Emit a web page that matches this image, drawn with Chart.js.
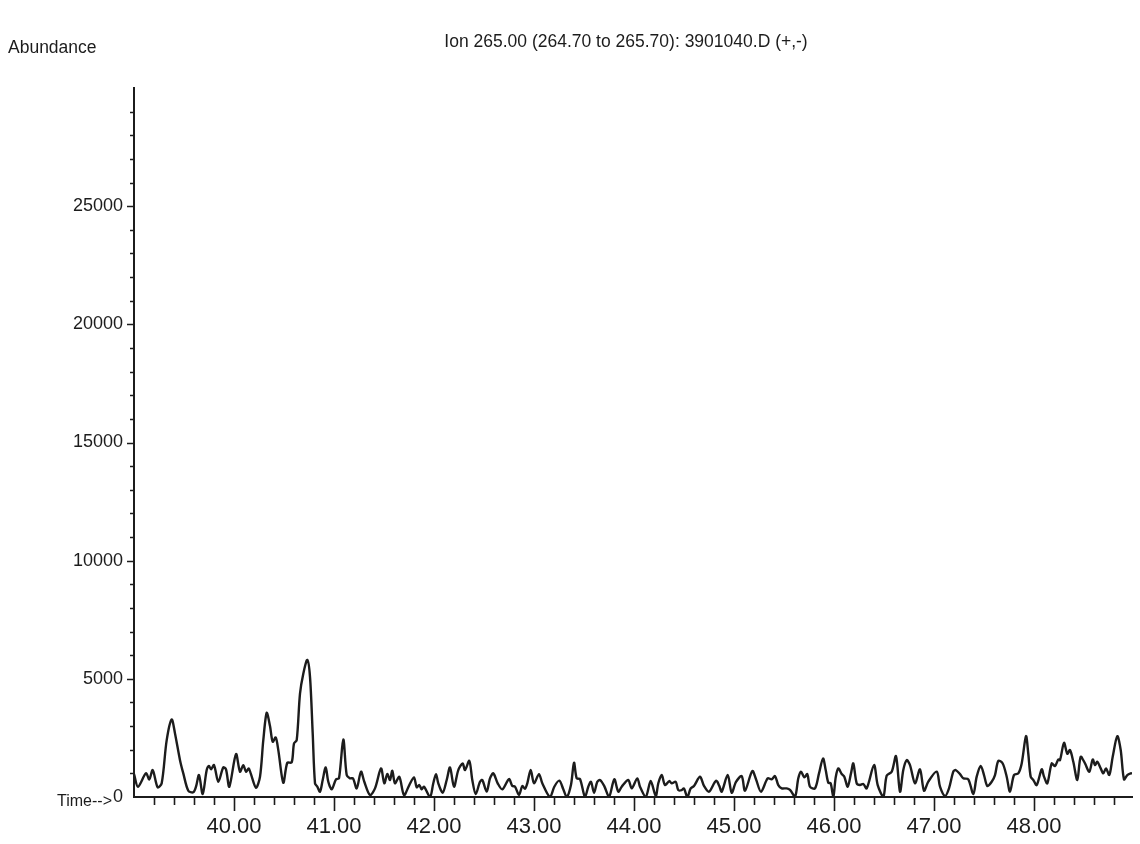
<!DOCTYPE html>
<html>
<head>
<meta charset="utf-8">
<title>Ion 265.00 chromatogram</title>
<script src="https://cdn.jsdelivr.net/npm/chart.js@4.4.1/dist/chart.umd.min.js"></script>
<style>
  html, body { margin: 0; padding: 0; background: #fff; }
  #wrap { width: 1140px; height: 844px; position: relative; }
</style>
</head>
<body>
<div id="wrap"><canvas id="tic" width="1140" height="844"></canvas></div>
<script>
// retention time (min) and abundance for ion 265.00
const retentionTime = [
  39.000, 39.040, 39.120, 39.153, 39.187, 39.237, 39.277, 39.327, 39.377, 39.410,
  39.460, 39.493, 39.543, 39.593, 39.620, 39.650, 39.687, 39.727, 39.750, 39.770,
  39.800, 39.843, 39.893, 39.920, 39.953, 40.020, 40.060, 40.093, 40.120, 40.147,
  40.167, 40.220, 40.260, 40.293, 40.327, 40.360, 40.387, 40.417, 40.443, 40.493,
  40.533, 40.577, 40.600, 40.627, 40.660, 40.693, 40.733, 40.760, 40.787, 40.810,
  40.833, 40.860, 40.887, 40.917, 40.943, 40.977, 41.020, 41.050, 41.093, 41.127,
  41.160, 41.190, 41.227, 41.270, 41.303, 41.360, 41.410, 41.470, 41.503, 41.533,
  41.560, 41.583, 41.610, 41.653, 41.700, 41.753, 41.800, 41.827, 41.853, 41.877,
  41.900, 41.960, 41.993, 42.020, 42.043, 42.087, 42.127, 42.160, 42.200, 42.243,
  42.287, 42.310, 42.353, 42.383, 42.417, 42.460, 42.483, 42.527, 42.560, 42.593,
  42.637, 42.683, 42.750, 42.783, 42.810, 42.850, 42.883, 42.910, 42.933, 42.967,
  43.000, 43.050, 43.083, 43.160, 43.203, 43.253, 43.293, 43.327, 43.370, 43.400,
  43.427, 43.460, 43.510, 43.543, 43.570, 43.600, 43.633, 43.660, 43.703, 43.750,
  43.803, 43.843, 43.877, 43.943, 43.977, 44.033, 44.060, 44.117, 44.167, 44.217,
  44.243, 44.277, 44.310, 44.353, 44.377, 44.417, 44.443, 44.477, 44.500, 44.533,
  44.567, 44.600, 44.660, 44.700, 44.750, 44.820, 44.853, 44.877, 44.937, 44.977,
  45.020, 45.077, 45.110, 45.183, 45.220, 45.270, 45.337, 45.377, 45.410, 45.443,
  45.477, 45.527, 45.560, 45.610, 45.643, 45.670, 45.703, 45.733, 45.760, 45.810,
  45.850, 45.890, 45.917, 45.943, 45.967, 45.993, 46.017, 46.043, 46.077, 46.103,
  46.137, 46.170, 46.193, 46.227, 46.260, 46.293, 46.327, 46.400, 46.437, 46.493,
  46.527, 46.577, 46.620, 46.660, 46.693, 46.727, 46.760, 46.810, 46.860, 46.900,
  46.943, 47.027, 47.060, 47.110, 47.150, 47.193, 47.217, 47.260, 47.293, 47.343,
  47.393, 47.427, 47.467, 47.500, 47.533, 47.577, 47.610, 47.643, 47.687, 47.727,
  47.760, 47.800, 47.843, 47.877, 47.920, 47.943, 47.967, 47.993, 48.027, 48.077,
  48.100, 48.133, 48.177, 48.210, 48.243, 48.260, 48.300, 48.333, 48.360, 48.393,
  48.433, 48.467, 48.510, 48.553, 48.587, 48.610, 48.633, 48.667, 48.693, 48.720,
  48.753, 48.787, 48.833, 48.867, 48.900, 48.933, 48.967, 48.980
];

const abundance = [
   970,  435, 1000,  745, 1140,  410,  580, 2405, 3280, 2690,
  1560, 1000,  265,  200,  435,  930,  125, 1140, 1310, 1170,
  1350,  645, 1250, 1170,  435, 1815, 1070, 1350, 1070, 1210,
  1000,  390,  855, 2405, 3560, 3000, 2335, 2520, 1985,  605,
  1450, 1465, 2265, 2405, 4375, 5220, 5800, 5080, 2690,  580,
   435,  225,  720, 1250,  645,  325,  745,  790, 2435,  930,
   790,  790,  365, 1070,  645,   85,  365, 1210,  580,  970,
   720, 1110,  580,  855,   85,  505,  830,  410,  505,  325,
   435,    0,  580,  970,  580,  180,  720, 1250,  435, 1140,
  1420, 1140, 1530,  720,  125,  645,  720,  225,  790, 1000,
   580,  325,  760,  465,  440,   85,  465,  350,  580, 1140,
   580,  970,  580,    0,  435,  690,  330,    0,  520, 1450,
   790,  760,    0,  435,  645,  180,  645,  720,  460,    0,
   745,  225,  435,  720,  365,  790,  435,    0,  675,   40,
   580,  930,  505,  675,  580,  645,  290,  295,  360,    0,
   360,  465,  855,  470,  225,  690,  470,  225,  930,  180,
   640,  885,  265, 1100,  750,  225,  790,  750,  885,  500,
   365,  365,  300,    0,  790, 1070,  830,  970,  435,  365,
  1000, 1630, 1140,  605,  580,    0,  830, 1210,  970,  860,
   435, 1000, 1420,  580,  510,  550,  365, 1350,  500,    0,
   900, 1070, 1730,  225, 1140, 1560, 1350,  580, 1170,  265,
   650, 1070,  435,   40,  365, 1070, 1140,  970,  790,  750,
   125,  860, 1310,  930,  465,  645,  930, 1530, 1420,  860,
   225,  930, 1000, 1420, 2575, 1830,  855,  720,  505, 1170,
   860,  580, 1420, 1310, 1590, 1560, 2290, 1830, 1985, 1490,
   720, 1700, 1420, 1070, 1590, 1350, 1490, 1210, 1000, 1210,
   930, 1700, 2575, 1990,  745,  930, 1000, 1000
];

const timeTicks = [40, 41, 42, 43, 44, 45, 46, 47, 48];
const abundanceTicks = [0, 5000, 10000, 15000, 20000, 25000];

const titleText = "Ion 265.00 (264.70 to 265.70): 3901040.D (+,-)";
const FONT = "'Liberation Sans', Arial, Helvetica, sans-serif";
const INK = "#1c1c1c";

// short minor ticks every 0.2 min / 1000 counts, longer ones on labelled values
const axisTicks = {
  id: "axisTicks",
  afterDraw(chart) {
    const { ctx, chartArea, scales } = chart;
    const x = scales.x, y = scales.y;
    ctx.save();
    ctx.strokeStyle = INK;
    ctx.lineWidth = 1.6;
    ctx.beginPath();
    for (let i = 1; i < 30; i++) {
      const py = Math.round(y.getPixelForValue(i * 1000)) + 0.5;
      const len = i % 5 === 0 ? 7 : 4;
      ctx.moveTo(chartArea.left, py);
      ctx.lineTo(chartArea.left - len, py);
    }
    for (let i = 196; i <= 244; i++) {
      const px = Math.round(x.getPixelForValue(i / 5)) + 0.5;
      const len = i % 5 === 0 ? 14 : 8;
      ctx.moveTo(px, chartArea.bottom);
      ctx.lineTo(px, chartArea.bottom + len);
    }
    ctx.stroke();
    ctx.restore();
  }
};

// header lines and the "Time-->" marker
const headerText = {
  id: "headerText",
  afterDraw(chart) {
    const { ctx, chartArea } = chart;
    ctx.save();
    ctx.fillStyle = INK;
    ctx.textBaseline = "middle";
    ctx.font = "17.5px " + FONT;
    ctx.textAlign = "center";
    ctx.fillText(titleText, 626, 42);
    ctx.textAlign = "left";
    ctx.fillText("Abundance", 8, 48);
    ctx.font = "16px " + FONT;
    ctx.textAlign = "right";
    ctx.fillText("Time-->", 112, chartArea.bottom + 5);
    ctx.restore();
  }
};

const points = retentionTime.map((t, i) => ({ x: t, y: abundance[i] }));

new Chart(document.getElementById("tic"), {
  type: "line",
  data: {
    datasets: [{
      data: points,
      borderColor: INK,
      borderWidth: 2.4,
      pointRadius: 0,
      tension: 0.3,
      fill: false
    }]
  },
  options: {
    responsive: false,
    animation: false,
    events: [],
    layout: { padding: { top: 88, right: 8, left: 0, bottom: 0 } },
    plugins: {
      legend: { display: false },
      tooltip: { enabled: false },
      title: { display: false }
    },
    scales: {
      x: {
        type: "linear",
        min: 39,
        max: 48.98,
        afterBuildTicks: (scale) => {
          scale.ticks = timeTicks.map((v) => ({ value: v }));
        },
        afterFit: (scale) => { scale.height = 47; },
        grid: { display: false, drawTicks: false },
        border: { display: true, color: INK, width: 2 },
        ticks: {
          color: INK,
          font: { family: FONT, size: 22 },
          padding: 17,
          maxRotation: 0,
          autoSkip: false,
          callback: (v) => Number(v).toFixed(2)
        }
      },
      y: {
        type: "linear",
        min: 0,
        max: 30000,
        afterBuildTicks: (scale) => {
          scale.ticks = abundanceTicks.map((v) => ({ value: v }));
        },
        afterFit: (scale) => { scale.width = 134; },
        grid: { display: false, drawTicks: false },
        border: { display: true, color: INK, width: 2 },
        ticks: {
          color: INK,
          font: { family: FONT, size: 18 },
          padding: 11,
          autoSkip: false,
          callback: (v) => String(v)
        }
      }
    }
  },
  plugins: [axisTicks, headerText]
});
</script>
</body>
</html>
